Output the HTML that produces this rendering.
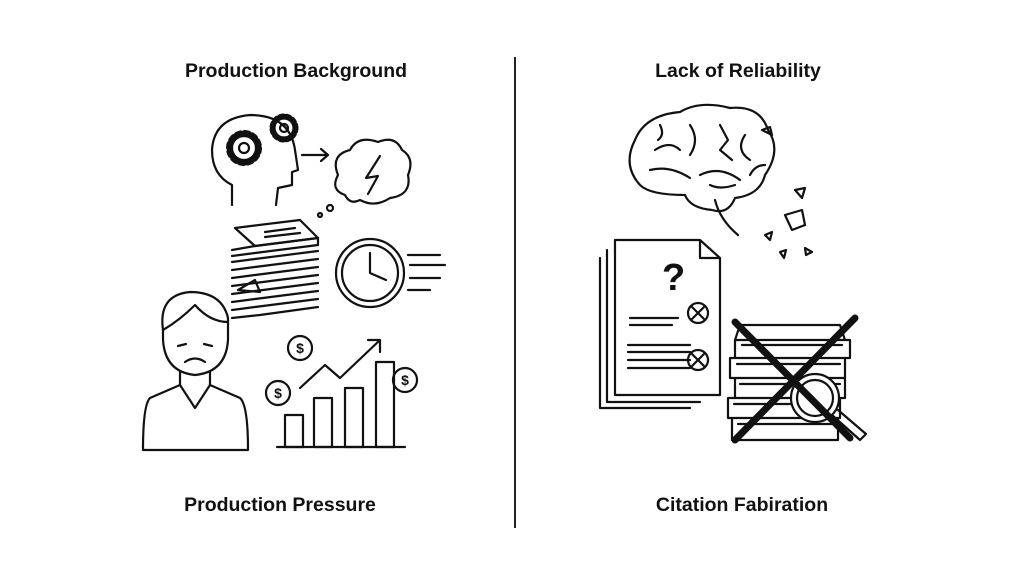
<!DOCTYPE html>
<html><head><meta charset="utf-8"><style>
html,body{margin:0;padding:0;background:#fff;width:1024px;height:585px;overflow:hidden}
svg{display:block}
text{font-family:"Liberation Sans",sans-serif;font-weight:bold;font-size:19.5px;fill:#111}
</style></head><body>
<svg width="1024" height="585" viewBox="0 0 1024 585" xmlns="http://www.w3.org/2000/svg">
<rect width="1024" height="585" fill="#fff"/>
<text x="296" y="77" text-anchor="middle">Production Background</text>
<text x="280" y="511" text-anchor="middle">Production Pressure</text>
<text x="738" y="77" text-anchor="middle">Lack of Reliability</text>
<text x="742" y="511" text-anchor="middle">Citation Fabiration</text>
<line x1="515" y1="57" x2="515" y2="528" stroke="#222" stroke-width="2"/>
<g fill="none" stroke="#111" stroke-width="2.2" stroke-linecap="round" stroke-linejoin="round">
<!-- head with gears -->
<path d="M232 205 L232 185 Q212 175 212 150 Q214 118 250 115 Q290 115 295 150 L298 170 L292 172 L292 185 L278 188 L276 205"/>
<circle cx="244" cy="148" r="15" stroke-width="6" stroke-dasharray="4 3.9"/>
<circle cx="244" cy="148" r="12"/><circle cx="244" cy="148" r="5"/>
<circle cx="284" cy="128" r="12" stroke-width="5" stroke-dasharray="3.5 3"/>
<circle cx="284" cy="128" r="9.5"/><circle cx="284" cy="128" r="4"/>
<path d="M302 155 L328 155 M321 149 L328 155 L321 161"/>
<!-- thought cloud -->
<path d="M345 195 Q330 190 338 175 Q330 155 350 150 Q358 135 378 142 Q395 135 402 150 Q415 158 408 175 Q412 195 390 198 Q375 208 360 200 Q350 205 345 195Z"/>
<path d="M380 156 L366 178 L378 176 L368 194" />
<circle cx="330" cy="208" r="3"/><circle cx="320" cy="215" r="2"/>
<!-- papers stack -->
<path d="M235 228 L300 220 L318 238 L255 246 Z"/>
<path d="M232 250 L255 246 L318 238 L318 245 L255 253 L232 256"/>
<path d="M232 262 L255 259 L318 251 M232 270 L255 267 L318 259 M232 278 L255 275 L318 267 M232 286 L255 283 L318 275 M232 294 L255 291 L318 283 M232 302 L255 299 L318 291 M232 310 L255 307 L318 299 M232 318 L260 315 L318 307"/>
<path d="M265 232 L295 228 M265 237 L300 233"/>
<path d="M238 290 L255 280 L260 292 Z"/>
<!-- clock -->
<circle cx="370" cy="273" r="34"/><circle cx="370" cy="273" r="28"/>
<path d="M370 253 L370 273 L386 280"/>
<path d="M408 255 L440 255 M410 265 L445 265 M410 278 L440 278 M408 290 L430 290"/>
<!-- person -->
<path d="M163 330 Q158 295 190 292 Q222 292 228 318 L228 340 Q226 372 195 375 Q165 372 163 340 Z"/>
<path d="M163 330 Q180 320 195 305 Q210 322 228 322"/>
<path d="M178 346 L186 344 M204 344 L212 346 M185 362 Q195 355 205 362"/>
<path d="M180 372 L180 385 L150 398 Q143 405 143 450 L248 450 Q248 405 240 398 L210 385 L210 372"/>
<path d="M180 385 L195 408 L210 385"/>
<!-- chart -->
<path d="M277 447 L405 447"/>
<rect x="285" y="415" width="18" height="32"/><rect x="314" y="398" width="18" height="49"/>
<rect x="345" y="388" width="18" height="59"/><rect x="376" y="362" width="18" height="85"/>
<path d="M300 388 L325 365 L340 378 L380 340 M368 340 L380 340 L380 352"/>
<circle cx="300" cy="348" r="12"/><circle cx="278" cy="393" r="12"/><circle cx="405" cy="380" r="12"/>
</g>
<g text-anchor="middle">
<text x="300" y="353" style="font-size:14px">$</text><text x="278" y="398" style="font-size:14px">$</text><text x="405" y="385" style="font-size:14px">$</text>
</g>
<g fill="none" stroke="#111" stroke-width="2.2" stroke-linecap="round" stroke-linejoin="round">
<!-- brain -->
<path d="M640 185 Q622 165 635 140 Q645 115 680 112 Q700 100 730 108 Q760 105 768 130 Q782 150 765 175 Q760 195 735 198 Q728 215 712 210 Q690 208 685 195 Q650 195 640 185 Z"/>
<path d="M715 200 Q720 220 738 235"/>
<path d="M655 150 Q670 140 680 150 M690 125 Q700 140 690 155 M650 170 Q670 165 690 178 M700 175 Q720 165 740 180 M745 135 Q735 150 750 160 M720 125 L728 140 L720 150 L732 160 M660 125 Q665 135 658 140 M710 185 Q720 190 735 185 M750 175 Q755 165 765 165"/>
<path d="M762 130 L770 127 L772 135 Z M795 190 L805 188 L802 198 Z M785 215 L802 210 L805 225 L792 230 Z M765 235 L772 232 L770 240 Z M780 252 L786 250 L784 258 Z M805 248 L812 252 L806 255 Z"/>
<!-- docs -->
<path d="M600 258 L600 408 L690 408"/>
<path d="M607 250 L607 402 L700 402"/>
<path d="M615 240 L700 240 L720 258 L720 395 L615 395 Z M700 240 L700 258 L720 258"/>
<path d="M630 318 L678 318 M630 325 L672 325 M628 345 L690 345 M628 352 L690 352 M628 360 L690 360 M628 368 L690 368"/>
<circle cx="698" cy="313" r="10"/><path d="M692 307 L704 319 M704 307 L692 319"/>
<circle cx="698" cy="360" r="10"/><path d="M692 354 L704 366 M704 354 L692 366"/>
<!-- books -->
<path d="M740 325 L840 325 L845 340 L735 340 Z M735 340 L850 340 L850 358 L735 358 Z M730 358 L845 358 L845 378 L730 378 Z M735 378 L845 378 L845 398 L735 398 Z M728 398 L840 398 L840 418 L728 418 Z M732 418 L838 418 L838 440 L732 440 Z"/>
<path d="M742 345 L842 345 M737 364 L840 364 M740 384 L840 384 M734 404 L835 404 M738 424 L832 424"/>
<circle cx="815" cy="398" r="24" fill="#fff"/><circle cx="815" cy="398" r="18"/>
<path d="M832 415 L860 440 L866 434 L838 410"/>
<path d="M735 322 L850 438 M855 318 L735 440" stroke-width="7"/>
</g>
<text x="662" y="290" style="font-size:38px">?</text>
</svg>
</body></html>
